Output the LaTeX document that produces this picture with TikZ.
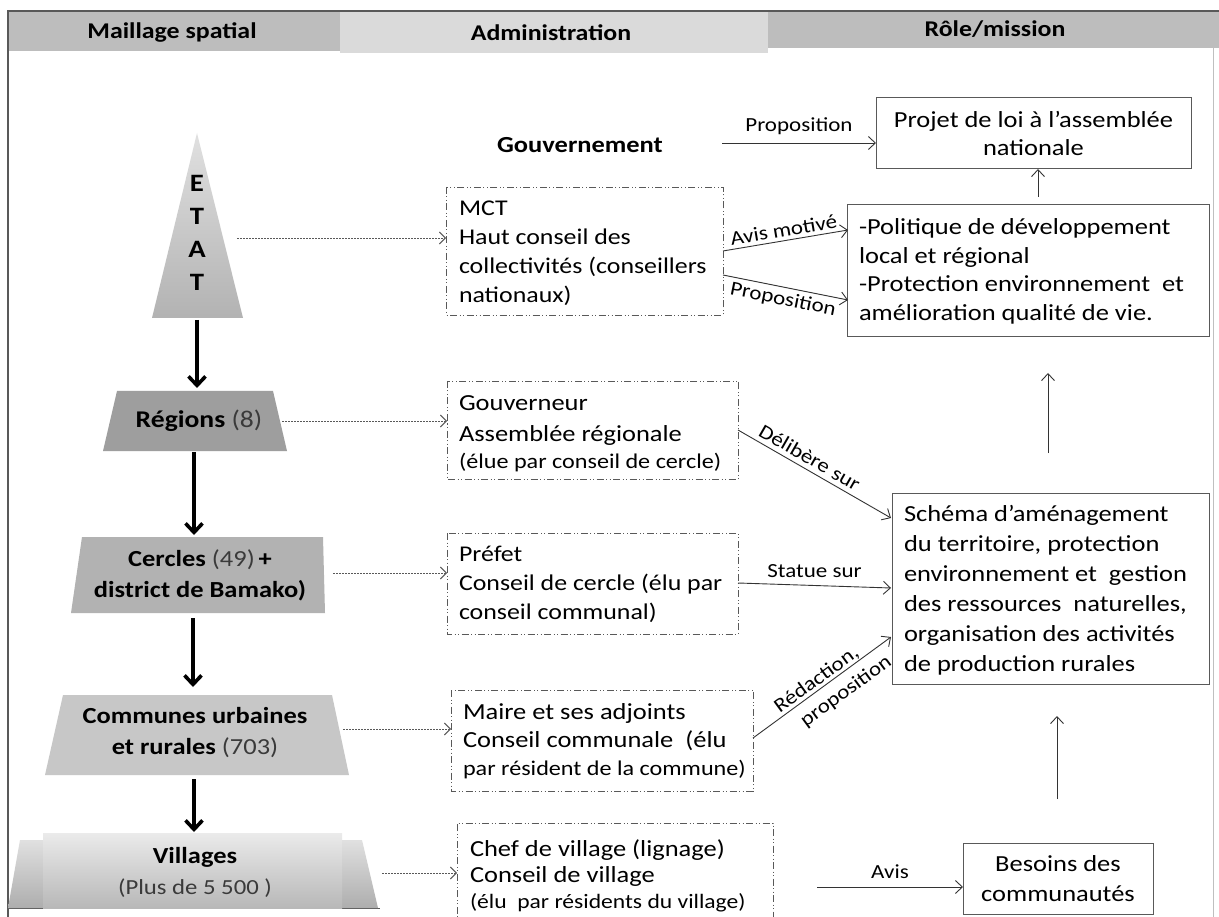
\documentclass[tikz,border=0pt]{standalone}
\usepackage{fontspec}
\setmainfont{Carlito}[FakeStretch=1.15]
\usetikzlibrary{arrows.meta,calc}
\definecolor{hdrdark}{HTML}{BDBDBD}
\definecolor{hdrlight}{HTML}{DADADA}
\definecolor{edge}{HTML}{595959}
\definecolor{numgray}{HTML}{3A3A3A}
\begin{document}
\begin{tikzpicture}[x=1pt,y=-1pt,
  every node/.style={inner sep=0pt,outer sep=0pt},
  hdr/.style={font=\fontsize{22.5}{24}\selectfont\bfseries},
  body/.style={font=\fontsize{23}{29}\selectfont,align=left,anchor=north west},
  lvl/.style={font=\fontsize{23}{31}\selectfont\bfseries,align=center},
  lbl/.style={font=\fontsize{20}{22}\selectfont},
  dashbox/.style={draw=edge,line width=0.9pt,dash pattern=on 7pt off 2.5pt on 1pt off 2.5pt on 1pt off 2.5pt},
  solidbox/.style={draw=edge,line width=1pt},
  dotarrow/.style={draw=edge,line width=0.8pt,dash pattern=on 2pt off 1pt,-{Straight Barb[length=6pt,width=12pt,line width=0.9pt]}},
  thinarrow/.style={draw=black!80,line width=0.9pt,-{Straight Barb[length=7pt,width=13pt]}},
  bigarrow/.style={draw=black,line width=3.6pt,-{Straight Barb[length=9pt,width=17pt]}}
]
\useasboundingbox (0,0) rectangle (1219,917);
\fill[white] (0,0) rectangle (1219,917);

% header
\fill[hdrdark] (8,11) rectangle (340,51);
\fill[hdrlight] (340,11) rectangle (768,53);
\fill[hdrdark] (768,11) rectangle (1219,48);
\draw[edge,line width=1.2pt] (8,917) -- (8,11) -- (1219,11);
\draw[black!25,line width=1pt] (1213,48) -- (1213,917);
\draw[edge,line width=1pt] (8,908) -- (380,908);
\node[hdr] (h1) at (172,32) {Maillage spatial};
\node[hdr] (h2) at (551,33) {Administration};
\node[hdr] (h3) at (995,29) {Rôle/mission};

% ---- left column shapes ----
\shade[top color=black!12,bottom color=black!30] (197,133) -- (243,318) -- (152,318) -- cycle;
\node[font=\fontsize{25}{33}\selectfont\bfseries,align=center] (etat) at (197,233) {E\\T\\A\\T};
\coordinate (etatR) at (237,238);
\coordinate (etatB) at (197,320);

\fill[black!38] (117,391) -- (273,391) -- (287,451) -- (103,451) -- cycle;
\node[lvl,font=\fontsize{24}{31}\selectfont\bfseries] (reg) at (199,421) {Régions \textmd{\color{numgray}(8)}};
\coordinate (regR) at (282,421);
\coordinate (regT) at (197,388);
\coordinate (regB) at (194,452);

\fill[black!30] (82,537) -- (323,537) -- (325,613) -- (71,613) -- cycle;
\node[lvl] (cer) at (200,575) {Cercles \textmd{\color{numgray}(49)}\,+\\district de Bamako)};
\coordinate (cerR) at (333,573);
\coordinate (cerT) at (194,535);
\coordinate (cerB) at (193,618);

\fill[black!22] (63,695) -- (332,695) -- (349,775) -- (45,775) -- cycle;
\node[lvl] (com) at (195,733) {Communes urbaines\\et rurales \textmd{\color{numgray}(703)}};
\coordinate (comR) at (343,729);
\coordinate (comT) at (193,687);
\coordinate (comB) at (194,779);

\shade[top color=black!12,bottom color=black!32] (20,840) -- (362,840) -- (378,908) -- (8,908) -- cycle;
\shade[top color=black!8,bottom color=black!28] (43,833) rectangle (342,908);
\node[lvl] (vil) at (195,872) {Villages\\\fontsize{21.5}{31}\selectfont\textmd{\color{numgray}(Plus de 5 500 )}};
\coordinate (vilR) at (382,873);
\coordinate (vilT) at (194,832);

\draw[bigarrow] (etatB) -- (regT);
\draw[bigarrow] (regB) -- (cerT);
\draw[bigarrow] (cerB) -- (comT);
\draw[bigarrow] (comB) -- (vilT);

% ---- middle column ----
\node[font=\fontsize{23}{24}\selectfont\bfseries] (gouv) at (580,145) {Gouvernement};
\coordinate (gouvR) at (722,143);

\draw[dashbox] (446,187) rectangle (723,315);
\node[body,font=\fontsize{22.5}{29}\selectfont] (mct) at (459,201) {MCT\\Haut conseil des\\collectivités (conseillers\\nationaux)};
\coordinate (mctL) at (446,238);
\coordinate (mctA) at (723,251);
\coordinate (mctB) at (723,275);

\draw[dashbox] (447,381) rectangle (738,479);
\node[body,font=\fontsize{23}{31}\selectfont] (gouvr) at (459,396) {Gouverneur\\Assemblée régionale\\[-4pt]\fontsize{21}{27}\selectfont(élue par conseil de cercle)};
\coordinate (gouvrL) at (447,421);
\coordinate (gouvrR) at (738,430);

\draw[dashbox] (447,533) rectangle (738,634);
\node[body,font=\fontsize{22.5}{29}\selectfont] (pref) at (459,546) {Préfet\\Conseil de cercle (élu par\\conseil communal)};
\coordinate (prefL) at (447,573);
\coordinate (prefR) at (738,583);

\draw[dashbox] (451,690) rectangle (753,791);
\node[body,font=\fontsize{23}{28}\selectfont] (maire) at (463,704) {Maire et ses adjoints\\Conseil communale~ (élu\\\fontsize{21}{28}\selectfont par résident de la commune)};
\coordinate (maireL) at (451,729);
\coordinate (maireR) at (753,738);

\draw[dashbox] (457,930) -- (457,823) -- (773,823) -- (773,930);
\node[body,font=\fontsize{23}{26}\selectfont] (chef) at (470,840) {Chef de village (lignage)\\Conseil de village\\\fontsize{20.5}{25}\selectfont(élu~ par résidents du village)};
\coordinate (chefL) at (457,873);
\coordinate (avisS) at (817,887);

% dotted connectors
\draw[dotarrow] (etatR) -- (mctL);
\draw[dotarrow] (regR) -- (gouvrL);
\draw[dotarrow] (cerR) -- (prefL);
\draw[dotarrow] (comR) -- (maireL);
\draw[dotarrow] (vilR) -- (chefL);

% ---- right column ----
\node[solidbox,minimum width=315pt,minimum height=71pt,font=\fontsize{23}{28}\selectfont,align=center] (projet) at (1033.5,133.5) {Projet de loi à l’assemblée\\nationale};

\draw[solidbox] (847,205) rectangle (1209,337);
\node[body,font=\fontsize{23}{28.5}\selectfont] (pol) at (859,219) {-Politique de développement\\local et régional\\-Protection environnement~ et\\amélioration qualité de vie.};
\coordinate (polT) at (1038,197);
\coordinate (polB) at (1048,373);
\coordinate (polL1) at (848,230);
\coordinate (polL2) at (848,300);

\draw[solidbox] (892,493) rectangle (1209,684);
\node[body,font=\fontsize{23}{30}\selectfont] (sch) at (904,505) {Schéma d’aménagement\\du territoire, protection\\environnement et~ gestion\\des ressources~ naturelles,\\organisation des activités\\de production rurales};
\coordinate (schT) at (1048,453);
\coordinate (schB) at (1057,716);
\coordinate (schL1) at (891,518);
\coordinate (schL2) at (891,588);
\coordinate (schL3) at (891,637);

\node[solidbox,minimum width=190pt,minimum height=71pt,font=\fontsize{23}{29}\selectfont,align=center] (bes) at (1058,879) {Besoins des\\[1pt]communautés};
\coordinate (besT) at (1057,799);

% solid connectors
\draw[thinarrow] (gouvR) -- node[lbl,above=8pt] {Proposition} (projet.west |- gouvR);
\draw[thinarrow] (polT) -- (projet.south -| polT);
\draw[thinarrow] (mctA) -- node[lbl,sloped,above=4pt] {Avis motivé} (polL1);
\draw[thinarrow] (mctB) -- node[lbl,sloped,below=4pt] {Proposition} (polL2);
\draw[thinarrow] (schT) -- (polB);
\draw[thinarrow] (gouvrR) -- node[lbl,sloped,above=5pt,pos=0.43] {Délibère sur} (schL1);
\draw[thinarrow] (prefR) -- node[lbl,above=8pt] {Statue sur} (schL2);
\draw[thinarrow] (maireR) -- node[lbl,sloped,above=1pt,pos=0.5] {Rédaction,} node[lbl,sloped,below=9pt,pos=0.6] {proposition} (schL3);
\draw[thinarrow] (besT) -- (schB);
\draw[thinarrow] (avisS) -- node[lbl,above=8pt] {Avis} (bes.west |- avisS);
\end{tikzpicture}
\end{document}
